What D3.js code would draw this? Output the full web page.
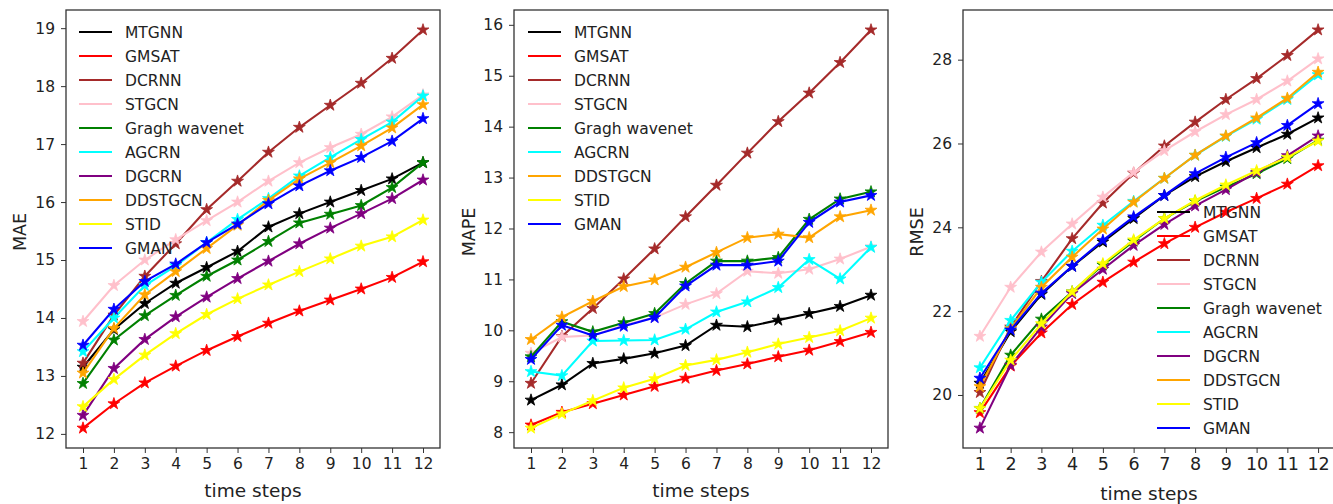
<!DOCTYPE html>
<html>
<head>
<meta charset="utf-8">
<script src="https://cdn.jsdelivr.net/npm/d3@7"></script>
<style>
  body { margin: 0; background: #fff; }
  svg { display: block; font-family: "DejaVu Sans", sans-serif; }
</style>
</head>
<body>
<svg width="1333" height="504"></svg>
<script>
// time steps on the x axis
var steps = [1, 2, 3, 4, 5, 6, 7, 8, 9, 10, 11, 12];

var models = ["MTGNN", "GMSAT", "DCRNN", "STGCN", "Gragh wavenet", "AGCRN", "DGCRN", "DDSTGCN", "STID", "GMAN"];
var mapeModels = ["MTGNN", "GMSAT", "DCRNN", "STGCN", "Gragh wavenet", "AGCRN", "DDSTGCN", "STID", "GMAN"];

// MAE, one row per model (same order as models)
var mae = [
  [13.15, 13.80, 14.25, 14.60, 14.87, 15.15, 15.57, 15.80, 16.00, 16.20, 16.40, 16.68],
  [12.10, 12.52, 12.88, 13.17, 13.44, 13.68, 13.91, 14.12, 14.31, 14.50, 14.70, 14.97],
  [13.22, 14.05, 14.72, 15.28, 15.87, 16.36, 16.86, 17.29, 17.67, 18.05, 18.48, 18.97],
  [13.94, 14.56, 15.00, 15.35, 15.68, 16.00, 16.36, 16.68, 16.94, 17.17, 17.47, 17.85],
  [12.87, 13.62, 14.04, 14.39, 14.72, 15.00, 15.32, 15.64, 15.79, 15.94, 16.25, 16.68],
  [13.42, 14.00, 14.56, 14.90, 15.30, 15.70, 16.06, 16.45, 16.77, 17.08, 17.38, 17.83],
  [12.32, 13.13, 13.63, 14.02, 14.36, 14.68, 14.98, 15.28, 15.55, 15.80, 16.06, 16.38],
  [13.05, 13.82, 14.40, 14.80, 15.20, 15.60, 16.03, 16.40, 16.68, 16.97, 17.28, 17.68],
  [12.47, 12.94, 13.36, 13.73, 14.06, 14.33, 14.57, 14.80, 15.02, 15.24, 15.40, 15.69],
  [13.53, 14.15, 14.63, 14.93, 15.30, 15.62, 15.97, 16.28, 16.54, 16.77, 17.05, 17.44]
];

// MAPE, one row per model (same order as mapeModels)
var mape = [
  [8.63, 8.93, 9.35, 9.44, 9.55, 9.70, 10.10, 10.07, 10.20, 10.33, 10.47, 10.69],
  [8.14, 8.39, 8.56, 8.73, 8.90, 9.06, 9.21, 9.34, 9.48, 9.61, 9.78, 9.96],
  [8.96, 9.88, 10.43, 11.01, 11.60, 12.23, 12.85, 13.48, 14.10, 14.66, 15.26, 15.90],
  [9.55, 9.87, 9.90, 10.10, 10.25, 10.51, 10.72, 11.16, 11.12, 11.20, 11.40, 11.64],
  [9.48, 10.17, 9.97, 10.15, 10.33, 10.92, 11.36, 11.36, 11.43, 12.18, 12.58, 12.72],
  [9.19, 9.11, 9.79, 9.80, 9.81, 10.02, 10.36, 10.56, 10.84, 11.39, 11.01, 11.63],
  [9.82, 10.26, 10.57, 10.86, 10.99, 11.24, 11.53, 11.82, 11.89, 11.82, 12.23, 12.36],
  [8.08, 8.36, 8.62, 8.87, 9.05, 9.31, 9.42, 9.57, 9.73, 9.86, 9.99, 10.24],
  [9.43, 10.10, 9.90, 10.08, 10.25, 10.87, 11.28, 11.28, 11.36, 12.12, 12.52, 12.65]
];

// RMSE, one row per model (same order as models)
var rmse = [
  [20.28, 21.51, 22.40, 23.07, 23.65, 24.21, 24.76, 25.21, 25.57, 25.90, 26.22, 26.61],
  [19.58, 20.69, 21.48, 22.16, 22.69, 23.17, 23.61, 24.00, 24.36, 24.69, 25.03, 25.47],
  [20.06, 21.62, 22.71, 23.73, 24.58, 25.29, 25.94, 26.51, 27.05, 27.55, 28.10, 28.71],
  [21.40, 22.57, 23.41, 24.08, 24.72, 25.31, 25.83, 26.28, 26.69, 27.05, 27.49, 28.02],
  [19.68, 20.95, 21.81, 22.46, 23.10, 23.67, 24.21, 24.62, 24.96, 25.28, 25.64, 26.08],
  [20.65, 21.78, 22.69, 23.43, 24.05, 24.62, 25.17, 25.72, 26.17, 26.58, 27.05, 27.64],
  [19.21, 20.71, 21.62, 22.42, 23.00, 23.57, 24.07, 24.51, 24.90, 25.31, 25.71, 26.18],
  [20.20, 21.58, 22.57, 23.29, 23.96, 24.60, 25.17, 25.72, 26.18, 26.61, 27.08, 27.70],
  [19.68, 20.83, 21.70, 22.46, 23.13, 23.70, 24.21, 24.64, 25.01, 25.35, 25.67, 26.06],
  [20.40, 21.55, 22.43, 23.07, 23.69, 24.25, 24.76, 25.28, 25.67, 26.02, 26.43, 26.95]
];

var maeTicks = [12, 13, 14, 15, 16, 17, 18, 19];
var mapeTicks = [8, 9, 10, 11, 12, 13, 14, 15, 16];
var rmseTicks = [20, 22, 24, 26, 28];

var colorOf = {
  "MTGNN": "#000000", "GMSAT": "#ff0000", "DCRNN": "#a52a2a", "STGCN": "#ffc0cb",
  "Gragh wavenet": "#008000", "AGCRN": "#00ffff", "DGCRN": "#800080",
  "DDSTGCN": "#ffa500", "STID": "#ffff00", "GMAN": "#0000ff"
};

var svg = d3.select("svg");

var panels = [
  { label: "MAE", names: models, rows: mae, ticks: maeTicks,
    left: 66, right: 440, ylabX: 26, tickFont: 15.5, xTickFont: 15.5, legX: 79, legY: 32, xlabY: 497 },
  { label: "MAPE", names: mapeModels, rows: mape, ticks: mapeTicks,
    left: 514, right: 888, ylabX: 475, tickFont: 15.5, xTickFont: 15.5, legX: 528, legY: 32, xlabY: 497 },
  { label: "RMSE", names: models, rows: rmse, ticks: rmseTicks,
    left: 963, right: 1335, ylabX: 923, tickFont: 15.5, xTickFont: 17.5, legX: 1157, legY: 212, xlabY: 500 }
];

var plotTop = 10, plotBottom = 448;

panels.forEach(drawPanel);

function drawPanel(p) {
  var g = svg.append("g");

  // matplotlib style 5% margins
  var x = d3.scaleLinear()
    .domain([steps[0] - 0.55, steps[steps.length - 1] + 0.55])
    .range([p.left, p.right]);
  var all = d3.merge(p.rows);
  var lo = d3.min(all), hi = d3.max(all), pad = (hi - lo) * 0.05;
  var y = d3.scaleLinear().domain([lo - pad, hi + pad]).range([plotBottom, plotTop]);

  var xAxis = g.append("g")
    .attr("transform", "translate(0," + plotBottom + ")")
    .call(d3.axisBottom(x).tickValues(steps).tickSize(5).tickPadding(5).tickFormat(d3.format("d")));
  xAxis.select(".domain").remove();
  xAxis.selectAll("text").attr("font-size", p.xTickFont).attr("fill", "#222")
    .attr("font-family", "DejaVu Sans");
  xAxis.selectAll("line").attr("stroke", "#333").attr("stroke-width", 1);

  var yAxis = g.append("g")
    .attr("transform", "translate(" + p.left + ",0)")
    .call(d3.axisLeft(y).tickValues(p.ticks).tickSize(5).tickPadding(6).tickFormat(d3.format("d")));
  yAxis.select(".domain").remove();
  yAxis.selectAll("text").attr("font-size", p.tickFont).attr("fill", "#222")
    .attr("font-family", "DejaVu Sans");
  yAxis.selectAll("line").attr("stroke", "#333").attr("stroke-width", 1);

  var line = d3.line()
    .x(function(d, i) { return x(steps[i]); })
    .y(function(d) { return y(d); });

  var star = d3.symbol().type(d3.symbolStar).size(44);

  var plot = g.append("g");
  p.rows.forEach(function(row, k) {
    var c = colorOf[p.names[k]];
    plot.append("path")
      .attr("d", line(row))
      .attr("fill", "none")
      .attr("stroke", c)
      .attr("stroke-width", 2.1);
    plot.selectAll(null)
      .data(row)
      .enter().append("path")
      .attr("d", star)
      .attr("transform", function(d, i) { return "translate(" + x(steps[i]) + "," + y(d) + ")"; })
      .attr("fill", c)
      .attr("stroke", c)
      .attr("stroke-width", 0.8);
  });

  // frame
  g.append("rect")
    .attr("x", p.left).attr("y", plotTop)
    .attr("width", p.right - p.left).attr("height", plotBottom - plotTop)
    .attr("fill", "none").attr("stroke", "#333").attr("stroke-width", 1.3);

  // legend, no frame
  var leg = g.append("g");
  p.names.forEach(function(n, i) {
    var yy = p.legY + i * 24;
    leg.append("line")
      .attr("x1", p.legX).attr("x2", p.legX + 33)
      .attr("y1", yy).attr("y2", yy)
      .attr("stroke", colorOf[n]).attr("stroke-width", 2.1);
    leg.append("text")
      .attr("x", p.legX + 46).attr("y", yy)
      .attr("dy", "0.36em")
      .attr("font-size", 15.5)
      .attr("fill", "#222")
      .text(n);
  });

  g.append("text")
    .attr("x", (p.left + p.right) / 2)
    .attr("y", p.xlabY)
    .attr("text-anchor", "middle")
    .attr("font-size", 18.5)
    .attr("fill", "#222")
    .text("time steps");

  g.append("text")
    .attr("transform", "translate(" + p.ylabX + "," + 232 + ") rotate(-90)")
    .attr("text-anchor", "middle")
    .attr("font-size", 17.5)
    .attr("fill", "#222")
    .text(p.label);
}
</script>
</body>
</html>
